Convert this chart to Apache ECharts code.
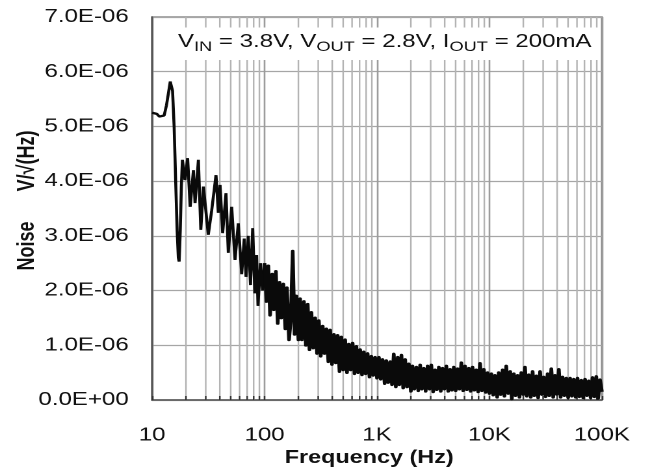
<!DOCTYPE html>
<html lang="en">
<head>
    <meta charset="UTF-8">
    <title>Output Noise vs Frequency</title>
    <script src="https://cdn.jsdelivr.net/npm/echarts@6/dist/echarts.min.js"></script>
    <style>
        html, body {
            margin: 0;
            padding: 0;
            background: #ffffff;
            overflow: hidden;
        }
        /* the source picture is stretched sideways, so the chart is drawn narrow and widened */
        #noiseChart {
            width: 500px;
            height: 472px;
            transform: scaleX(1.3);
            transform-origin: 0 0;
        }
    </style>
</head>
<body>
    <div id="noiseChart"></div>
    <script>
        // noise in uV/sqrt(Hz), below 100 Hz read point by point
        var lowBand = [
            [10, 5.25], [10.5, 5.25], [11, 5.23], [11.6, 5.18], [12.2, 5.15], [12.8, 5.2],
            [13.4, 5.38], [14.0, 5.62], [14.5, 5.82], [14.8, 5.85], [15.2, 5.65], [15.7, 5.0],
            [16.2, 4.0], [16.7, 3.1], [17.1, 2.6], [17.4, 2.53], [17.8, 3.1], [18.2, 3.9],
            [18.6, 4.39], [19.6, 4.02], [20.7, 4.42], [21.8, 3.53], [23.3, 4.20], [24.1, 3.60],
            [25.8, 4.39], [27.1, 3.11], [28.6, 3.90], [31.6, 3.02], [33.9, 3.47], [35.5, 3.44],
            [37.0, 4.11], [38.8, 3.42], [40.2, 3.93], [42.4, 3.05], [45.4, 3.78], [47.6, 2.69],
            [51.0, 3.53], [54.6, 2.56], [58.4, 3.23], [62.6, 2.30], [66.0, 2.95], [68.4, 2.25],
            [71.6, 3.00], [75.0, 2.10], [78.4, 3.14], [82.0, 1.95], [85.0, 2.65], [87.4, 1.72],
            [92.0, 2.50], [96.0, 2.00], [100, 2.50]
        ];

        // sample positions inside one decade (times 100, 1K, 10K)
        var mant = [1.00, 1.04, 1.08, 1.12, 1.17, 1.21, 1.26, 1.31, 1.36, 1.41,
                    1.47, 1.53, 1.58, 1.65, 1.71, 1.78, 1.85, 1.92, 2.00, 2.07,
                    2.15, 2.24, 2.33, 2.42, 2.51, 2.61, 2.71, 2.82, 2.93, 3.04,
                    3.16, 3.29, 3.41, 3.55, 3.69, 3.83, 3.98, 4.14, 4.30, 4.47,
                    4.64, 4.82, 5.01, 5.21, 5.41, 5.62, 5.84, 6.07, 6.31, 6.56,
                    6.81, 7.08, 7.36, 7.64, 7.94, 8.25, 8.58, 8.91, 9.26, 9.62];

        var noise100 = [2.50, 1.80, 2.45, 1.55, 2.30, 1.65, 2.35, 1.40, 2.15, 1.50,
                        2.12, 1.30, 2.05, 1.10, 1.45, 2.72, 1.20, 1.90, 1.10, 1.85,
                        1.10, 1.80, 1.00, 1.75, 0.92, 1.60, 0.95, 1.50, 0.85, 1.45,
                        0.80, 1.35, 0.85, 1.30, 0.70, 1.28, 0.65, 1.20, 0.68, 1.18,
                        0.52, 1.15, 0.55, 1.10, 0.50, 1.02, 0.55, 1.04, 0.48, 0.98,
                        0.50, 0.92, 0.46, 0.88, 0.48, 0.85, 0.42, 0.80, 0.45, 0.78];

        var noise1k = [0.40, 0.78, 0.38, 0.74, 0.30, 0.72, 0.32, 0.70, 0.28, 0.84,
                       0.24, 0.78, 0.28, 0.82, 0.22, 0.74, 0.24, 0.66, 0.16, 0.62,
                       0.20, 0.60, 0.17, 0.64, 0.20, 0.58, 0.16, 0.62, 0.20, 0.64,
                       0.15, 0.55, 0.19, 0.60, 0.16, 0.58, 0.20, 0.62, 0.16, 0.56,
                       0.18, 0.60, 0.17, 0.57, 0.20, 0.68, 0.17, 0.62, 0.19, 0.58,
                       0.16, 0.60, 0.18, 0.55, 0.15, 0.67, 0.17, 0.56, 0.14, 0.50];

        var noise10k = [0.12, 0.48, 0.09, 0.45, 0.05, 0.50, 0.10, 0.55, 0.07, 0.62,
                        0.12, 0.52, 0.02, 0.48, 0.08, 0.45, 0.05, 0.50, 0.10, 0.60,
                        0.07, 0.46, 0.05, 0.52, 0.08, 0.44, 0.04, 0.52, 0.10, 0.42,
                        0.06, 0.48, 0.08, 0.57, 0.05, 0.45, 0.10, 0.56, 0.05, 0.42,
                        0.08, 0.40, 0.04, 0.40, 0.07, 0.38, 0.05, 0.40, 0.06, 0.36,
                        0.04, 0.38, 0.08, 0.35, 0.04, 0.41, 0.06, 0.43, 0.03, 0.37];
        var lastPoint = [100000, 0.15];

        var xTickLabels = ['10', '100', '1K', '10K', '100K'];
        var yTickLabels = ['0.0E+00', '1.0E-06', '2.0E-06', '3.0E-06', '4.0E-06', '5.0E-06', '6.0E-06', '7.0E-06'];
        // 2..9 lines of every decade
        var minorFreqs = [20, 30, 40, 50, 60, 70, 80, 90,
                          200, 300, 400, 500, 600, 700, 800, 900,
                          2000, 3000, 4000, 5000, 6000, 7000, 8000, 9000,
                          20000, 30000, 40000, 50000, 60000, 70000, 80000, 90000];

        var highBand = [];
        [[100, noise100], [1000, noise1k], [10000, noise10k]].forEach(function (d) {
            mant.forEach(function (m, i) {
                highBand.push([m * d[0], d[1][i]]);
            });
        });
        highBand.push(lastPoint);

        var chart = echarts.init(document.getElementById('noiseChart'), null, { devicePixelRatio: 2 });

        var option = {
            animation: false,
            backgroundColor: '#ffffff',
            textStyle: { fontFamily: 'Liberation Sans, Arial, sans-serif' },
            title: {
                right: 40,
                top: 25,
                backgroundColor: '#ffffff',
                padding: [5, 5, 6, 13],
                text: '{m|V}{s|IN}{m| = 3.8V, V}{s|OUT}{m| = 2.8V, I}{s|OUT}{m| = 200mA}',
                textStyle: {
                    fontWeight: 'normal',
                    rich: {
                        m: { fontSize: 18.5, fontWeight: 'normal', color: '#111', lineHeight: 24, fontFamily: 'Liberation Sans' },
                        s: { fontSize: 14, fontWeight: 'normal', color: '#111', lineHeight: 12, verticalAlign: 'bottom', fontFamily: 'Liberation Sans' }
                    }
                }
            },
            grid: {
                left: 117,
                right: 37,
                top: 17,
                bottom: 72,
                containLabel: false,
                outerBoundsMode: 'none',
                show: true,
                borderColor: '#8a8a8a',
                borderWidth: 1.5
            },
            xAxis: {
                type: 'log',
                min: 10,
                max: 100000,
                name: 'Frequency (Hz)',
                nameLocation: 'middle',
                nameGap: 49,
                nameMoveOverlap: false,
                nameTextStyle: { fontSize: 18, fontWeight: 'bold', color: '#111', padding: [0, 12, 0, 0] },
                axisLine: { show: true, lineStyle: { color: '#555', width: 1.5 } },
                axisTick: { show: true, inside: true, length: 4, lineStyle: { color: '#333', width: 1.2 } },
                axisLabel: {
                    margin: 26,
                    fontSize: 18.5,
                    color: '#111',
                    formatter: function (v) {
                        return xTickLabels[Math.round(Math.log10(v)) - 1];
                    }
                },
                splitLine: { show: true, lineStyle: { color: '#9c9c9c', width: 1.3 } }
            },
            yAxis: {
                type: 'value',
                min: 0,
                max: 7,
                interval: 1,
                name: 'Noise      V/\u221A(Hz)',
                nameLocation: 'middle',
                nameGap: 87,
                nameMoveOverlap: false,
                nameTextStyle: { fontSize: 18, fontWeight: 'bold', color: '#111', padding: [0, 0, 0, 16] },
                axisLine: { show: true, lineStyle: { color: '#555', width: 1.5 } },
                axisTick: { show: false },
                axisLabel: {
                    margin: 18,
                    fontSize: 18.5,
                    color: '#111',
                    formatter: function (v) {
                        return yTickLabels[Math.round(v)];
                    }
                },
                splitLine: { show: true, lineStyle: { color: '#a6a6a6', width: 1.3 } }
            },
            series: [
                {
                    // minor log grid lines with their small ticks at the bottom
                    type: 'custom',
                    z: 1,
                    silent: true,
                    data: minorFreqs.map(function (f) { return [f, 0]; }),
                    encode: { x: 0, y: 1 },
                    renderItem: function (params, api) {
                        var x = api.coord([api.value(0), 0])[0];
                        var top = params.coordSys.y;
                        var bottom = params.coordSys.y + params.coordSys.height;
                        return {
                            type: 'group',
                            children: [
                                { type: 'line', shape: { x1: x, y1: top, x2: x, y2: bottom }, style: { stroke: '#b3b3b3', lineWidth: 1.2 } },
                                { type: 'line', shape: { x1: x, y1: bottom - 4, x2: x, y2: bottom }, style: { stroke: '#333', lineWidth: 1.2 } }
                            ]
                        };
                    }
                },
                {
                    name: 'Noise',
                    type: 'line',
                    z: 3,
                    showSymbol: false,
                    data: lowBand,
                    lineStyle: { color: '#0a0a0a', width: 2.3 }
                },
                {
                    name: 'Noise band',
                    type: 'line',
                    z: 3,
                    showSymbol: false,
                    data: highBand,
                    lineStyle: { color: '#0a0a0a', width: 2.8, join: 'round' }
                }
            ]
        };

        chart.setOption(option);
    </script>
</body>
</html>
